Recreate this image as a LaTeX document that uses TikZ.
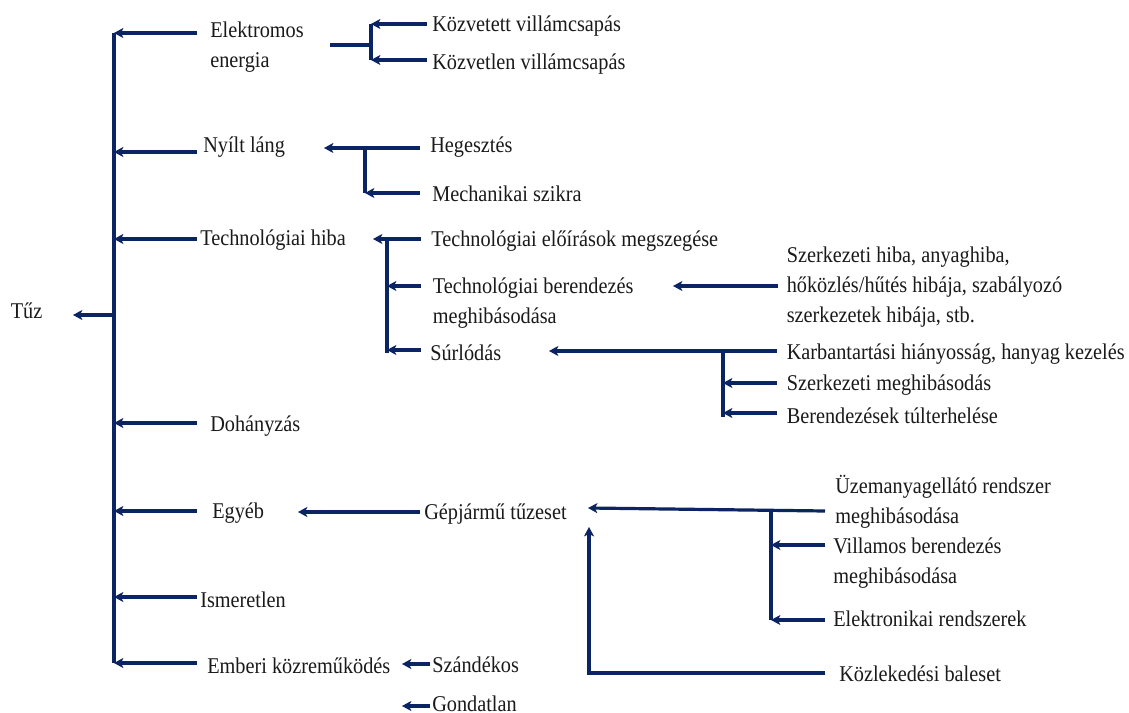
\documentclass[tikz,border=0pt]{standalone}
\usepackage{fontspec}
\setmainfont[FakeStretch=0.9]{Liberation Serif}
\usetikzlibrary{arrows.meta}
\definecolor{navy}{HTML}{0B2463}
\definecolor{txt}{HTML}{1A1A1A}
\begin{document}
\begin{tikzpicture}[x=0.75pt,y=-0.75pt,
  lbl/.style={anchor=base west,inner sep=0pt,text=txt,align=left,
    font=\fontsize{16.9}{22.5}\selectfont},
  conn/.style={draw=navy,line width=2.4pt},
  arr/.style={conn,-{Stealth[length=7pt,width=7.5pt,inset=1.8pt]}}]
\useasboundingbox[fill=white] (0,0) rectangle (1129,713);

% ---------- labels (multi-line: last baseline) ----------
\node[lbl] (tuz) at (10.5,318) {Tűz};
\node[lbl] (elek) at (210,68) {Elektromos\\energia};
\node[lbl] (nyilt) at (203,153) {Nyílt láng};
\node[lbl] (tech) at (200,246) {Technológiai hiba};
\node[lbl] (doh) at (210,431) {Dohányzás};
\node[lbl] (egyeb) at (212,518) {Egyéb};
\node[lbl] (ismer) at (200,607) {Ismeretlen};
\node[lbl] (emberi) at (207,673) {Emberi közreműködés};

\node[lbl] (kozvet) at (432,32) {Közvetett villámcsapás};
\node[lbl] (kozvetl) at (432,69.5) {Közvetlen villámcsapás};
\node[lbl] (heg) at (430,153) {Hegesztés};
\node[lbl] (mech) at (432,201.5) {Mechanikai szikra};
\node[lbl] (elo) at (431,246.5) {Technológiai előírások megszegése};
\node[lbl] (tber) at (432.5,323) {Technológiai berendezés\\meghibásodása};
\node[lbl] (surl) at (430,360) {Súrlódás};
\node[lbl] (szhiba) at (786.5,322) {Szerkezeti hiba, anyaghiba,\\hőközlés/hűtés hibája, szabályozó\\szerkezetek hibája, stb.};
\node[lbl] (karb) at (786.5,359) {Karbantartási hiányosság, hanyag kezelés};
\node[lbl] (szmeg) at (786.5,390) {Szerkezeti meghibásodás};
\node[lbl] (bert) at (786.5,423) {Berendezések túlterhelése};
\node[lbl] (gep) at (424,519) {Gépjármű tűzeset};
\node[lbl] (uzem) at (835,523.5) {Üzemanyagellátó rendszer\\meghibásodása};
\node[lbl] (vill) at (833,583) {Villamos berendezés\\meghibásodása};
\node[lbl] (elr) at (833,626.5) {Elektronikai rendszerek};
\node[lbl] (kozl) at (839,681.5) {Közlekedési baleset};
\node[lbl] (szand) at (432,672.5) {Szándékos};
\node[lbl] (gond) at (432,711) {Gondatlan};

% ---------- main trunk ----------
\coordinate (mtop) at (114,33);
\coordinate (mbot) at (114,663);
\coordinate (mt) at (114,315);
\coordinate (tuzend) at (73,315);
\draw[conn] (mtop) -- (mbot);
\draw[arr] (mt) -- (tuzend);
\foreach \n/\y in {elek/33,nyilt/152,tech/239,doh/423,egyeb/511,ismer/597,emberi/663}{
  \coordinate (\n-s) at (197,\y);
  \coordinate (\n-m) at (114,\y);
}
\foreach \n in {elek,nyilt,tech,doh,egyeb,ismer,emberi}{
  \draw[arr] (\n-s) -- (\n-m);
}

% ---------- Elektromos energia ----------
\coordinate (ea) at (330,45);
\coordinate (eb) at (371,45);
\coordinate (ec) at (371,24);
\coordinate (ed) at (371,60);
\coordinate (ee) at (427,24);
\coordinate (ef) at (427,60);
\draw[conn] (ea) -- (eb);
\draw[conn] (ec) -- (ed);
\draw[arr] (ee) -- (ec);
\draw[arr] (ef) -- (ed);

% ---------- Nyílt láng ----------
\coordinate (na) at (420,148);
\coordinate (nb) at (324,148);
\coordinate (nc) at (365,148);
\coordinate (nd) at (365,193);
\coordinate (ne) at (420,193);
\draw[arr] (na) -- (nb);
\draw[conn] (nc) -- (nd);
\draw[arr] (ne) -- (nd);

% ---------- Technológiai hiba ----------
\coordinate (ta) at (421,239);
\coordinate (tb) at (373,239);
\coordinate (tc) at (387,239);
\coordinate (td) at (387,353);
\coordinate (te) at (421,286);
\coordinate (tf) at (387,286);
\coordinate (tg) at (421,350);
\coordinate (th) at (387,350);
\draw[arr] (ta) -- (tb);
\draw[conn] (tc) -- (td);
\draw[arr] (te) -- (tf);
\draw[arr] (tg) -- (th);

% ---------- Szerkezeti hiba ----------
\coordinate (sa) at (778,286);
\coordinate (sb) at (673,286);
\draw[arr] (sa) -- (sb);

% ---------- Súrlódás ----------
\coordinate (ua) at (777,351);
\coordinate (ub) at (549,351);
\coordinate (uc) at (723,351);
\coordinate (ud) at (723,417);
\coordinate (ue) at (777,383);
\coordinate (uf) at (723,383);
\coordinate (ug) at (777,413);
\coordinate (uh) at (723,413);
\draw[arr] (ua) -- (ub);
\draw[conn] (uc) -- (ud);
\draw[arr] (ue) -- (uf);
\draw[arr] (ug) -- (uh);

% ---------- Egyéb ----------
\coordinate (ga) at (420,512);
\coordinate (gb) at (298,512);
\draw[arr] (ga) -- (gb);

% ---------- Gépjármű tűzeset ----------
\coordinate (va) at (825,511);
\coordinate (vb) at (588,508);
\coordinate (vc) at (771,510.5);
\coordinate (vd) at (771,620);
\coordinate (ve) at (825,545);
\coordinate (vf) at (771,545);
\coordinate (vg) at (825,620);
\coordinate (vh) at (771,620);
\coordinate (ka) at (825,673);
\coordinate (kb) at (589,673);
\coordinate (kc) at (589,527);
\draw[arr] (va) -- (vb);
\draw[conn] (vc) -- (vd);
\draw[arr] (ve) -- (vf);
\draw[arr] (vg) -- (vh);
\draw[arr] (ka) -- (kb) -- (kc);

% ---------- Emberi közreműködés ----------
\coordinate (ha) at (430,664);
\coordinate (hb) at (402,664);
\coordinate (hc) at (430,706);
\coordinate (hd) at (402,706);
\draw[arr] (ha) -- (hb);
\draw[arr] (hc) -- (hd);
\end{tikzpicture}
\end{document}
